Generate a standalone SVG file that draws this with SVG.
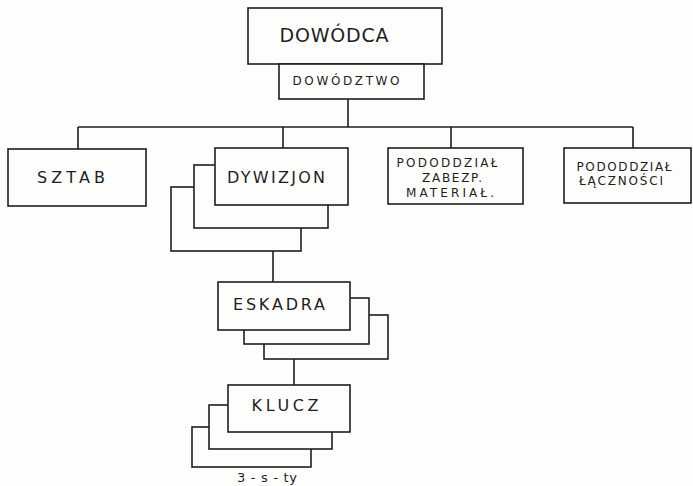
<svg xmlns="http://www.w3.org/2000/svg" width="693" height="486" viewBox="0 0 693 486">
<style>
.b{fill:#fdfdfb;stroke:#1e1e1e;stroke-width:1.6}
.c{fill:none;stroke:#1e1e1e;stroke-width:1.6}
.t{font-family:"DejaVu Sans",sans-serif;fill:#1e1e1e;text-anchor:middle}
.l{font-size:16px}
.s{font-size:12px}
</style>
<rect width="693" height="486" fill="#fdfdfb"/>
<g id="connectors" class="c">
<path d="M348 99V127M78 127H633M78 127V149M283 127V148M451 127V148M633 127V148"/>
<path d="M273 251V282"/>
<path d="M294 359V385"/>
</g>
<g id="dowodca">
<rect class="b" x="248" y="8" width="194" height="56"/>
<text class="t" x="334" y="42" font-size="19" textLength="109" lengthAdjust="spacing">DOWÓDCA</text>
</g>
<g id="dowodztwo">
<rect class="b" x="279" y="64" width="145" height="35"/>
<text class="t s" x="346" y="85" textLength="107" lengthAdjust="spacing">DOWÓDZTWO</text>
</g>
<g id="sztab">
<rect class="b" x="8" y="149" width="138" height="57"/>
<text class="t l" x="71" y="183" textLength="68" lengthAdjust="spacing">SZTAB</text>
</g>
<g id="dywizjon">
<rect class="b" x="171" y="187" width="130" height="64"/>
<rect class="b" x="194" y="165" width="134" height="63"/>
<rect class="b" x="215" y="148" width="133" height="57"/>
<text class="t l" x="276" y="183" textLength="98" lengthAdjust="spacing">DYWIZJON</text>
</g>
<g id="pododzial-zabezp">
<rect class="b" x="388" y="148" width="135" height="56"/>
<text class="t s" x="447" y="167" textLength="101" lengthAdjust="spacing">PODODDZIAŁ</text>
<text class="t s" x="452" y="182" textLength="60" lengthAdjust="spacing">ZABEZP.</text>
<text class="t s" x="450" y="197" textLength="88" lengthAdjust="spacing">MATERIAŁ.</text>
</g>
<g id="pododzial-lacznosci">
<rect class="b" x="564" y="148" width="127" height="55"/>
<text class="t s" x="624" y="171" textLength="95" lengthAdjust="spacing">PODODDZIAŁ</text>
<text class="t s" x="621" y="185" textLength="84" lengthAdjust="spacing">ŁĄCZNOŚCI</text>
</g>
<g id="eskadra">
<rect class="b" x="264" y="315" width="124" height="44"/>
<rect class="b" x="244" y="298" width="125" height="46"/>
<rect class="b" x="218" y="282" width="132" height="48"/>
<text class="t l" x="279" y="310" textLength="92" lengthAdjust="spacing">ESKADRA</text>
</g>
<g id="klucz">
<rect class="b" x="192" y="427" width="119" height="40"/>
<rect class="b" x="209" y="405" width="123" height="44"/>
<rect class="b" x="228" y="385" width="122" height="47"/>
<text class="t l" x="285" y="411" textLength="67" lengthAdjust="spacing">KLUCZ</text>
<text class="t" x="267" y="482" font-size="13" textLength="60" lengthAdjust="spacing">3 - s - ty</text>
</g>
</svg>
